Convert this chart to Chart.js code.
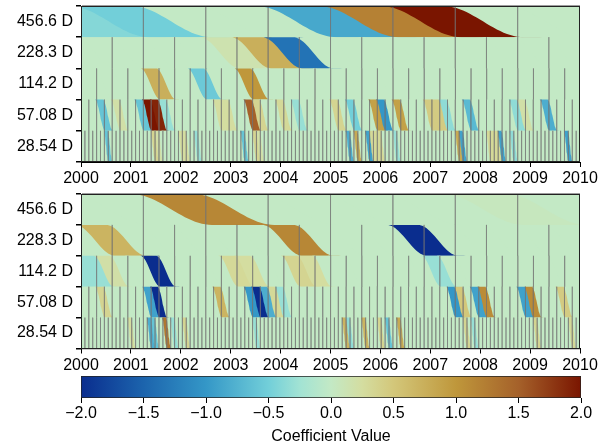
<!DOCTYPE html>
<html>
<head>
<meta charset="utf-8">
<script src="https://cdn.jsdelivr.net/npm/chart.js@4.4.1/dist/chart.umd.min.js"></script>
<style>
body { margin: 0; background: #fff; }
#wrap { position: relative; width: 611px; height: 446px; overflow: hidden; }
canvas { position: absolute; left: 0; }
</style>
</head>
<body>
<div id="wrap">
  <canvas id="upper" width="611" height="186" style="top:0px"></canvas>
  <canvas id="lower" width="611" height="185" style="top:188px"></canvas>
  <canvas id="cbar" width="611" height="74" style="top:372px"></canvas>
</div>
<script>
var rowLabels = ['456.6 D', '228.3 D', '114.2 D', '57.08 D', '28.54 D'];
var periodDays = [456.6, 228.3, 114.2, 57.08, 28.54];
var yearTicks = [2000, 2001, 2002, 2003, 2004, 2005, 2006, 2007, 2008, 2009, 2010];
var colorTicks = [-2.0, -1.5, -1.0, -0.5, 0.0, 0.5, 1.0, 1.5, 2.0];
var firstCell = -2; // every level starts two cells before 2000

// upper panel, one array per level
var upper456 = [-0.2, -0.4, -0.5, 0, 0, -0.85, 1.2, 2.0, 0, 0];
var upper228 = [0, 0, 0, 0, 0, 0, 0.15, 0.75, -1.35, 0, 0, 0, 0, 0, 0, 0, 0, 0];
var upper114 = [0, 0, 0, 0, 0, 0, 0.75, 0, 0, -0.55,
                0, 0, 1.0, 0, 0, 0, 0, 0, 0, 0,
                0, 0, 0, 0, 0, 0, 0, 0, 0, 0,
                0, 0, 0, 0];
var upper57 = [0, 0, 0, 0, -0.6, 0, 0.2, 0, 0, -0.6,
               2.0, 1.9, -0.3, 0, 0, 0, 0, 0, 0, 0.25,
               0.25, 0, 0, 1.5, 0.35, 0, 0, 0.3, 0, -0.3,
               0, 0, 0, 0, 0.35, 0, -0.5, 0, 0, 0.9,
               -1.0, 0, 0.9, 0, 0, 0, 0.45, 0.45, -0.35, 0,
               0, -0.7, 0, 0, 0, 0, 0, -0.35, 0.2, 0,
               0, -0.8, 0, 0, 0, 0];
var upper28 = [0, 0, 0, 0, 0, 0, 0, 0, -0.6, 0,
               0, 0, 0, 0, 0, 0, 0, 0, 0, 0,
               0.35, 0.2, 0, 0, 0, 0, 0, 0.25, 0.25, 0,
               0, -0.3, 0, 0, 0, 0, 0, 0, 0, 0,
               0, 0, 0, -0.6, 0, 0, 0.35, 0.2, 0, 0,
               0, 0, 0, 0, 0, 0, 0, 0, 0, 0,
               0, 0, 0, 0, 0, 0, 0, 0, 0, 0,
               -0.8, 0, 0.8, 0, 0, -0.9, 0.3, 0.3, 0.3, 0,
               0, 0, -0.3, 0, 0, 0, 0, 0, 0, 0,
               0, 0, 0, 0, 0, 0, 0, 0, 0.8, -0.9,
               0, 0, 0, 0, 0, 0, 0.3, 0.3, 0.3, -0.9,
               0, 0, -0.35, 0, 0, 0, 0, 0, 0, 0,
               0, 0, 0, 0, 0, 0, -0.9, 0, 0, 0];

// lower panel
var lower456 = [0, 0, 0, 1.15, 0, 0, 0, 0, 0.05, 0];
var lower228 = [0, 0, 0.7, 0, 0, 0, 0, 0, 1.15, 0, 0, 0, -2.0, 0, 0, 0, 0, 0];
var lower114 = [0, -0.3, -0.3, 0.2, 0, 0, -2.0, 0, 0, 0,
                0, 0.3, 0.25, 0, 0, 0.35, 0.25, 0, 0, 0,
                0, 0, 0, 0, -0.3, 0, 0, 0, 0, 0,
                0, 0, 0, 0];
var lower57 = [0, 0, 0, 0, 0.35, 0, 0, 0, 0, 0,
               -0.9, -2.0, 0, 0, 0, 0, 0, 0, 0, 0.7,
               0, 0, 0, -1.0, -2.0, -0.8, 0.3, -0.3, 0, 0,
               0, 0, 0, 0, 0, 0, 0, 0, 0, 0,
               0, 0, 0, 0, 0, 0, 0, 0, 0, -1.0,
               0.5, 0, -0.9, 1.1, 0, 0, 0, 0, -0.9, 1.1,
               0, 0, 0, 0.45, 0, 0];
var lower28 = [0, 0, 0, 0, 0, 0, 0, 0, 0, 0,
               0, 0, 0, 0, 0.25, 0, 0, 0, 0, -0.8,
               -0.6, 0, 0, 1.3, 0, -0.3, 0, 0, 0.35, 0,
               0, 0, 0, 0, 0, 0, 0, 0, 0, 0,
               0, 0, 0, 0, 0, 0, -0.3, 0, 0, 0,
               0, 0, 0, 0, 0, 0, 0, 0, 0, 0,
               0, 0, 0, 0, 0, 0, 0, 0, 0, 0.7,
               -0.35, 0, 0, 0, 0.7, 0, 0, 0, 0.35, 0,
               -0.6, 0, 0, 0.8, 0, 0, 0, 0, 0, 0,
               0, 0, 0, 0, 0, 0, 0, 0, 0, 0,
               0.35, 0, -0.3, 0, 0, 0, 0, 0, 0, 0,
               0, 0, 0, 0, 0, 0, 0, 0, 0.35, 0,
               0, 0, 0, 0, 0, 0, 0, 0.3, 0, 0];

// colour map, value -> colour
var cmap = [
    [-2.0, '#0a2d8e'], [-1.5, '#1c64ad'], [-1.0, '#3497c7'], [-0.5, '#72cfd9'],
    [-0.25, '#a2e3d4'], [0.0, '#c3e9c5'], [0.25, '#d4dda0'], [0.5, '#d3c77a'],
    [1.0, '#bf973b'], [1.5, '#a5612a'], [2.0, '#7a1500']
];

var font = { family: "'Liberation Sans', Arial, sans-serif", size: 16 };

function hexRgb(h) {
    return [parseInt(h.slice(1, 3), 16), parseInt(h.slice(3, 5), 16), parseInt(h.slice(5, 7), 16)];
}

function coefColor(v) {
    v = Math.max(-2, Math.min(2, v));
    for (var i = 0; i < cmap.length - 1; i++) {
        if (v <= cmap[i + 1][0]) {
            var f = (v - cmap[i][0]) / (cmap[i + 1][0] - cmap[i][0]);
            var a = hexRgb(cmap[i][1]), b = hexRgb(cmap[i + 1][1]);
            return 'rgb(' + Math.round(a[0] + (b[0] - a[0]) * f) + ',' +
                Math.round(a[1] + (b[1] - a[1]) * f) + ',' + Math.round(a[2] + (b[2] - a[2]) * f) + ')';
        }
    }
    return cmap[cmap.length - 1][1];
}

function ease(u) {
    return (1 - Math.cos(Math.PI * u)) / 2;
}

// one cell as a sheared band, top edge at row - 0.5, bottom edge at row + 0.5
function bandPoints(x0, x1, row, w) {
    var pts = [];
    var n = 24;
    var xl = x0 - 0.2 * w;
    var sL = 1.3 * w, sR = 1.4 * w;
    for (var j = 0; j <= n; j++) {
        pts.push({ x: xl + sL * j / n, y: row - 0.5 + ease(j / n) });
    }
    for (var j = n; j >= 0; j--) {
        pts.push({ x: x1 + sR * j / n, y: row - 0.5 + ease(j / n) });
    }
    return pts;
}

function buildDatasets(rows) {
    var sets = [];
    var seq = 0;
    var grid = [];
    for (var r = 0; r < rows.length; r++) {
        var w = periodDays[r] / 365.25;
        var vals = rows[r];
        for (var i = 0; i < vals.length; i++) {
            var x0 = 2000 + (i + firstCell) * w;
            seq++;
            sets.push({
                data: bandPoints(x0, x0 + w, r, w),
                backgroundColor: coefColor(vals[i]),
                borderWidth: 0,
                pointRadius: 0,
                fill: 'shape',
                order: -seq,
                yAxisID: 'yv'
            });
        }
        for (var k = 1; 2000 + k * w < 2010 - 1e-6; k++) {
            grid.push({ x: 2000 + k * w, y: r - 0.5 });
            grid.push({ x: 2000 + k * w, y: r + 0.5 });
            grid.push({ x: 2000 + k * w, y: null });
        }
    }
    sets.push({
        data: grid,
        borderColor: 'rgba(115,115,115,0.45)',
        borderWidth: 1,
        pointRadius: 0,
        fill: false,
        spanGaps: false,
        order: -100000,
        yAxisID: 'yv'
    });
    return sets;
}

var frame = {
    id: 'frame',
    beforeDatasetsDraw: function(chart) {
        var a = chart.chartArea, ctx = chart.ctx;
        ctx.save();
        ctx.fillStyle = coefColor(0);
        ctx.fillRect(a.left, a.top, a.right - a.left, a.bottom - a.top);
        ctx.restore();
    },
    afterDraw: function(chart) {
        var a = chart.chartArea, ctx = chart.ctx;
        ctx.save();
        ctx.strokeStyle = '#222';
        ctx.lineWidth = 1;
        ctx.strokeRect(Math.round(a.left) + 0.5, Math.round(a.top) + 0.5,
            Math.round(a.right - a.left) - 1, Math.round(a.bottom - a.top) - 1);
        ctx.restore();
    }
};

function panel(id, rows, axisHeight) {
    new Chart(document.getElementById(id), {
        type: 'line',
        data: { datasets: buildDatasets(rows) },
        options: {
            responsive: false,
            animation: false,
            events: [],
            layout: { padding: { top: 6, right: 31, left: 0, bottom: 0 } },
            plugins: { legend: { display: false }, tooltip: { enabled: false } },
            scales: {
                x: {
                    type: 'linear', min: 2000, max: 2010,
                    afterBuildTicks: function(s) { s.ticks = yearTicks.map(function(v) { return { value: v }; }); },
                    afterFit: function(s) { s.height = axisHeight; },
                    ticks: { font: font, color: '#000', padding: 2, maxRotation: 0, autoSkip: false,
                        callback: function(v) { return String(v); } },
                    grid: { drawOnChartArea: false, tickLength: 5, color: '#000' },
                    border: { color: '#000' }
                },
                y: {
                    type: 'category', labels: rowLabels, offset: true, z: 1,
                    afterFit: function(s) { s.width = 81; s.paddingTop = 0; s.paddingBottom = 0; },
                    ticks: { font: font, color: '#000', padding: 3 },
                    grid: { offset: true, color: 'rgba(140,140,140,0.85)', lineWidth: 1.5, tickColor: '#000', tickLength: 5 },
                    border: { color: '#000' }
                },
                yv: { type: 'linear', display: false, min: -0.5, max: 4.5, reverse: true }
            }
        },
        plugins: [frame]
    });
}

panel('upper', [upper456, upper228, upper114, upper57, upper28], 24);
panel('lower', [lower456, lower228, lower114, lower57, lower28], 24.5);

// colour bar
new Chart(document.getElementById('cbar'), {
    type: 'bar',
    data: {
        labels: [''],
        datasets: [{
            data: [[colorTicks[0], colorTicks[colorTicks.length - 1]]],
            backgroundColor: function(c) {
                var chart = c.chart;
                if (!chart.chartArea) return coefColor(0);
                var xs = chart.scales.x;
                var g = chart.ctx.createLinearGradient(xs.getPixelForValue(-2), 0, xs.getPixelForValue(2), 0);
                for (var i = 0; i < cmap.length; i++) {
                    g.addColorStop((cmap[i][0] + 2) / 4, cmap[i][1]);
                }
                return g;
            },
            borderColor: '#222',
            borderWidth: 1,
            borderSkipped: false,
            barPercentage: 1,
            categoryPercentage: 1
        }]
    },
    options: {
        indexAxis: 'y',
        responsive: false,
        animation: false,
        events: [],
        layout: { padding: { top: 4, right: 30, left: 81, bottom: 0 } },
        plugins: { legend: { display: false }, tooltip: { enabled: false } },
        scales: {
            x: {
                type: 'linear', min: -2, max: 2,
                afterBuildTicks: function(s) { s.ticks = colorTicks.map(function(v) { return { value: v }; }); },
                afterFit: function(s) { s.height = 48; },
                ticks: { font: font, color: '#000', padding: 1, maxRotation: 0, autoSkip: false,
                    callback: function(v) { return (v < 0 ? '\u2212' : '') + Math.abs(v).toFixed(1); } },
                grid: { drawOnChartArea: false, tickLength: 5, color: '#000' },
                border: { display: false },
                title: { display: true, text: 'Coefficient Value', font: font, color: '#000', padding: { top: 2, bottom: 0 } }
            },
            y: { display: false }
        }
    }
});
</script>
</body>
</html>
